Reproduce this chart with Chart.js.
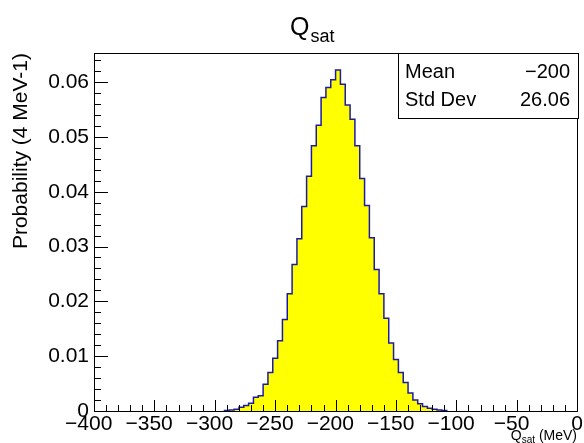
<!DOCTYPE html>
<html>
<head>
<meta charset="utf-8">
<script src="https://cdn.jsdelivr.net/npm/chart.js@4.4.1/dist/chart.umd.min.js"></script>
<style>
  html, body { margin: 0; padding: 0; background: #fff; }
  #wrap { width: 584px; height: 443px; }
</style>
</head>
<body>
<div id="wrap"><canvas id="qsatChart" width="584" height="443"></canvas></div>
<script>
// bins de 4 MeV: borde inferior de cada bin con contenido
const binLowEdges = [
  -292, -288, -284, -280, -276, -272, -268, -264, -260, -256,
  -252, -248, -244, -240, -236, -232, -228, -224, -220, -216,
  -212, -208, -204, -200, -196, -192, -188, -184, -180, -176,
  -172, -168, -164, -160, -156, -152, -148, -144, -140, -136,
  -132, -128, -124, -120, -116, -112
];
const binWidth = 4;
const probability = [
  0.0001, 0.0002, 0.0003, 0.0007, 0.0010, 0.0014, 0.0025, 0.0028, 0.0049, 0.0070,
  0.0096, 0.0128, 0.0167, 0.0214, 0.0267, 0.0314, 0.0373, 0.0428, 0.0484, 0.0521,
  0.0572, 0.0590, 0.0604, 0.0622, 0.0596, 0.0558, 0.0532, 0.0484, 0.0424, 0.0375,
  0.0316, 0.0258, 0.0214, 0.0169, 0.0124, 0.0094, 0.0070, 0.0052, 0.0033, 0.0020,
  0.0013, 0.0008, 0.0005, 0.0003, 0.0002, 0.0001
];
const statsLabels = ['Mean', 'Std Dev'];
const statsValues = ['\u2212200', '26.06'];

const FONT = '"Liberation Sans", Arial, Helvetica, sans-serif';

// puntos del contorno escalonado
const points = [{ x: binLowEdges[0], y: 0 }];
binLowEdges.forEach(function (e, i) { points.push({ x: e, y: probability[i] }); });
points.push({ x: binLowEdges[binLowEdges.length - 1] + binWidth, y: 0 });

// marco, ticks hacia dentro, titulo y caja de estadisticas al estilo ROOT
const rootStyle = {
  id: 'rootStyle',
  afterDatasetsDraw: function (chart) {
    const ctx = chart.ctx, a = chart.chartArea;
    const x = chart.scales.x, y = chart.scales.y;
    ctx.save();
    ctx.strokeStyle = '#000';
    ctx.lineWidth = 1;
    ctx.strokeRect(Math.round(a.left) + 0.5, Math.round(a.top) + 0.5,
      Math.round(a.right - a.left), Math.round(a.bottom - a.top));

    ctx.beginPath();
    for (let v = x.min; v <= x.max + 0.001; v += 10) {
      const px = Math.round(x.getPixelForValue(v)) + 0.5;
      const len = Math.abs(v % 50) < 0.001 ? 11 : 6;
      ctx.moveTo(px, a.bottom);
      ctx.lineTo(px, a.bottom - len);
    }
    for (let k = 0; k * 0.002 <= y.max; k++) {
      const py = Math.round(y.getPixelForValue(k * 0.002)) + 0.5;
      const len = k % 5 === 0 ? 14 : 7;
      ctx.moveTo(a.left, py);
      ctx.lineTo(a.left + len, py);
    }
    ctx.stroke();

    // titulo Q_sat
    ctx.fillStyle = '#000';
    ctx.textAlign = 'left';
    ctx.textBaseline = 'alphabetic';
    ctx.font = '25px ' + FONT;
    ctx.fillText('Q', 290, 35);
    const qw = ctx.measureText('Q').width;
    ctx.font = '18px ' + FONT;
    ctx.fillText('sat', 290 + qw + 1, 42);

    // titulo del eje x
    ctx.font = '14px ' + FONT;
    const unit = ' (MeV)';
    const uw = ctx.measureText(unit).width;
    const qx = ctx.measureText('Q').width;
    ctx.font = '10px ' + FONT;
    const sw = ctx.measureText('sat').width;
    let tx = 577 - uw - sw - qx;
    ctx.font = '14px ' + FONT;
    ctx.fillText('Q', tx, 440);
    ctx.font = '10px ' + FONT;
    ctx.fillText('sat', tx + qx, 443);
    ctx.font = '14px ' + FONT;
    ctx.fillText(unit, tx + qx + sw, 440);

    // caja de estadisticas
    ctx.fillStyle = '#fff';
    ctx.fillRect(398.5, 53.5, 180, 65);
    ctx.strokeRect(398.5, 53.5, 180, 65);
    ctx.fillStyle = '#000';
    ctx.font = '20px ' + FONT;
    statsLabels.forEach(function (lab, i) {
      const base = 78 + i * 28;
      ctx.textAlign = 'left';
      ctx.fillText(lab, 405, base);
      ctx.textAlign = 'right';
      ctx.fillText(statsValues[i], 570, base);
    });
    ctx.restore();
  }
};

const ctx = document.getElementById('qsatChart').getContext('2d');
const qsatChart = new Chart(ctx, {
  type: 'line',
  data: {
    datasets: [{
      data: points,
      stepped: 'before',
      fill: 'origin',
      backgroundColor: '#ffff00',
      borderColor: '#1c1ca0',
      borderWidth: 1.5,
      pointRadius: 0,
      tension: 0
    }]
  },
  options: {
    responsive: false,
    animation: false,
    layout: { padding: { left: 0, top: 53, right: 6, bottom: 0 } },
    plugins: { legend: { display: false }, tooltip: { enabled: false } },
    scales: {
      x: {
        type: 'linear',
        min: -400,
        max: 0,
        grid: { display: false, drawTicks: false },
        border: { display: false },
        afterFit: function (s) { s.height = 32; },
        ticks: {
          stepSize: 50,
          includeBounds: false,
          maxRotation: 0,
          autoSkip: false,
          padding: 1,
          color: '#000',
          font: { family: FONT, size: 21 },
          // ROOT deja el signo menos algo desplazado a la izquierda
          callback: function (v) { return v < 0 ? '\u2212' + Math.abs(v) + '\u2002' : String(v); }
        }
      },
      y: {
        type: 'linear',
        min: 0,
        max: 0.0653,
        grid: { display: false, drawTicks: false },
        border: { display: false },
        afterFit: function (s) { s.width = 94; },
        title: {
          display: true,
          text: 'Probability (4 MeV-1)',
          align: 'end',
          color: '#000',
          font: { family: FONT, size: 21 },
          padding: { top: 9, bottom: 0 }
        },
        ticks: {
          stepSize: 0.01,
          includeBounds: false,
          padding: 5,
          color: '#000',
          font: { family: FONT, size: 21 },
          callback: function (v) { return v === 0 ? '0' : v.toFixed(2); }
        }
      }
    }
  },
  plugins: [rootStyle]
});
</script>
</body>
</html>
